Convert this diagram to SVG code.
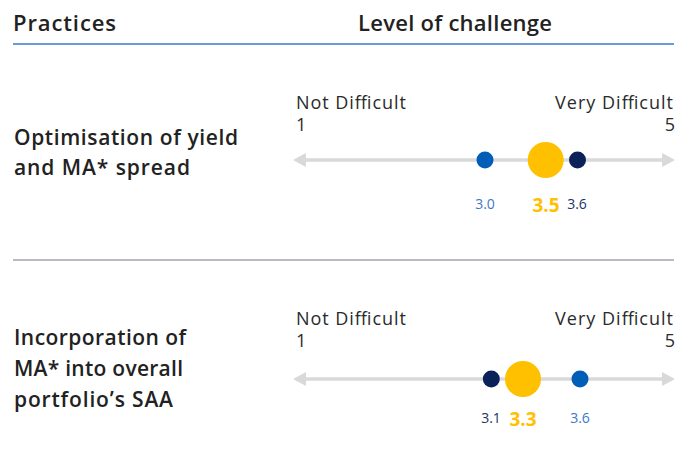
<svg xmlns="http://www.w3.org/2000/svg" width="689" height="470" viewBox="0 0 689 470">
<style>
.hdr{font-family:"Open Sans","Liberation Sans",sans-serif;font-size:22px;font-weight:600;fill:#222}
.lbl{font-family:"Open Sans","Liberation Sans",sans-serif;font-size:21px;font-weight:600;fill:#222}
.ax{font-family:"Open Sans","Liberation Sans",sans-serif;font-size:18px;font-weight:400;fill:#2a2a2a}
.num{font-family:"Open Sans","Liberation Sans",sans-serif;font-size:14px;text-anchor:middle}
.big{font-family:"Open Sans","Liberation Sans",sans-serif;font-size:19px;font-weight:700;text-anchor:middle;fill:#FFC000}
.axis{stroke:#d9d9d9;stroke-width:3.5;fill:none}
.ah{fill:#d9d9d9}
.blue{fill:#005EB8}
.navy{fill:#0A2159}
.yel{fill:#FFC000}
</style>
<g id="header">
<text class="hdr" x="13" y="31" textLength="103">Practices</text>
<text class="hdr" x="358" y="31" textLength="194">Level of challenge</text>
<line x1="13" y1="44" x2="674" y2="44" stroke="#6C9BD3" stroke-width="2"/>
</g>
<g id="separator">
<line x1="13" y1="260" x2="674" y2="260" stroke="#A3A3AB" stroke-width="1.5"/>
</g>
<g id="row1-label">
<text class="lbl" x="14" y="145" textLength="224">Optimisation of yield</text>
<text class="lbl" x="14" y="175" textLength="176">and MA* spread</text>
</g>
<g id="connectors">
<line class="axis" x1="300" y1="160" x2="668" y2="160"/>
<polygon class="ah" points="293,160 306,153 306,167"/>
<polygon class="ah" points="675,160 662,153 662,167"/>
<line class="axis" x1="300" y1="379" x2="668" y2="379"/>
<polygon class="ah" points="293,379 306,372 306,386"/>
<polygon class="ah" points="675,379 662,372 662,386"/>
</g>
<g id="row1-scale">
<text class="ax" x="296" y="109" textLength="110">Not Difficult</text>
<text class="ax" x="296" y="131">1</text>
<text class="ax" x="555" y="109" textLength="118">Very Difficult</text>
<text class="ax" x="675" y="131" text-anchor="end">5</text>
</g>
<g id="row1-dots">
<circle class="blue" cx="485" cy="160" r="8.5"/>
<circle class="yel" cx="545.7" cy="160" r="18"/>
<circle class="navy" cx="577.5" cy="160" r="8.5"/>
<text class="num" x="485" y="209" fill="#3D78C6">3.0</text>
<text class="big" x="546" y="212">3.5</text>
<text class="num" x="577" y="209" fill="#1E3366">3.6</text>
</g>
<g id="row2-label">
<text class="lbl" x="14" y="345" textLength="172">Incorporation of</text>
<text class="lbl" x="14" y="376" textLength="169">MA* into overall</text>
<text class="lbl" x="14" y="407" textLength="159">portfolio’s SAA</text>
</g>
<g id="row2-scale">
<text class="ax" x="296" y="325" textLength="110">Not Difficult</text>
<text class="ax" x="296" y="347">1</text>
<text class="ax" x="555" y="325" textLength="118">Very Difficult</text>
<text class="ax" x="675" y="347" text-anchor="end">5</text>
</g>
<g id="row2-dots">
<circle class="navy" cx="491.3" cy="379" r="8.5"/>
<circle class="yel" cx="523" cy="379" r="18"/>
<circle class="blue" cx="580" cy="379" r="8.5"/>
<text class="num" x="491" y="423" fill="#1E3366">3.1</text>
<text class="big" x="523" y="426">3.3</text>
<text class="num" x="580" y="423" fill="#3D78C6">3.6</text>
</g>
</svg>
